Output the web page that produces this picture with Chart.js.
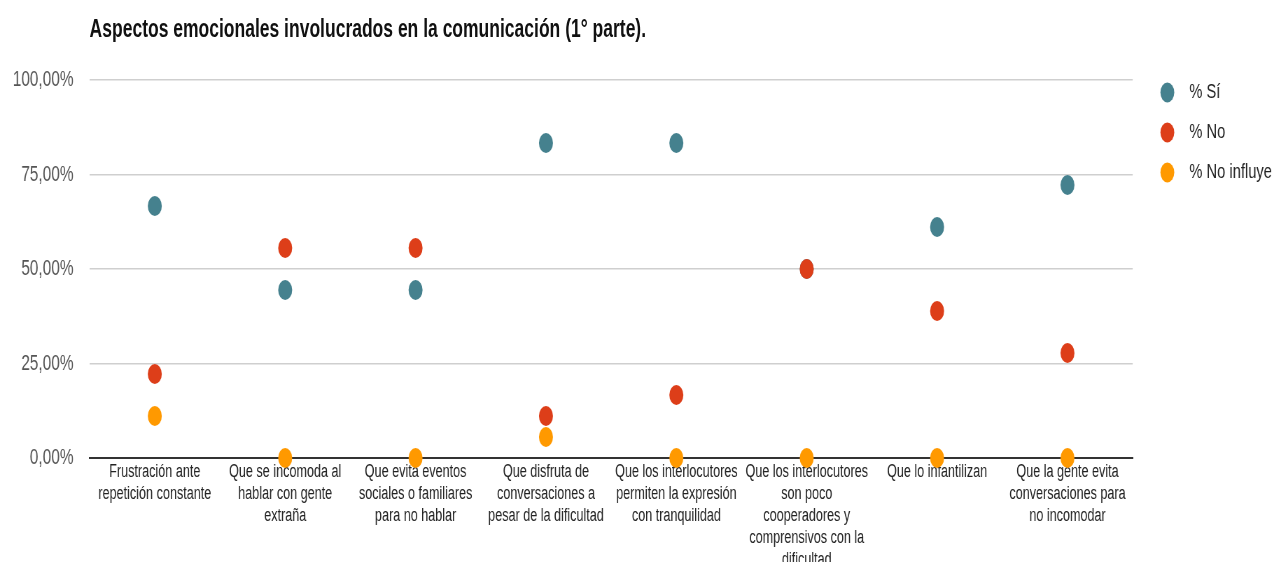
<!DOCTYPE html>
<html>
<head>
<meta charset="utf-8">
<script src="https://cdn.jsdelivr.net/npm/chart.js@4"></script>
<style>
  body { margin: 0; background: #fff; overflow: hidden; }
  /* el original esta comprimido en horizontal: se dibuja ancho y se escala */
  .wrap {
    position: relative; width: 1827px; height: 562px;
    transform: scaleX(0.7); transform-origin: 0 0;
  }
  .title {
    position: absolute; left: 128px; top: 16px;
    font-family: 'Liberation Sans', Arial, sans-serif;
    font-weight: bold; font-size: 25px; line-height: 1; color: #111;
  }
</style>
</head>
<body>
<div class="wrap">
  <div class="title">Aspectos emocionales involucrados en la comunicación (1° parte).</div>
  <canvas id="chart" width="1827" height="562"></canvas>
</div>
<script>
// categorias y series
const categorias = [
  ["Frustración ante", "repetición constante"],
  ["Que se incomoda al", "hablar con gente", "extraña"],
  ["Que evita eventos", "sociales o familiares", "para no hablar"],
  ["Que disfruta de", "conversaciones a", "pesar de la dificultad"],
  ["Que los interlocutores", "permiten la expresión", "con tranquilidad"],
  ["Que los interlocutores", "son poco", "cooperadores y", "comprensivos con la", "dificultad"],
  ["Que lo infantilizan"],
  ["Que la gente evita", "conversaciones para", "no incomodar"]
];
const si = [66.67, 44.44, 44.44, 83.33, 83.33, 50, 61.11, 72.22];
const no = [22.22, 55.56, 55.56, 11.11, 16.67, 50, 38.89, 27.78];
const noInfluye = [11.11, 0, 0, 5.56, 0, 0, 0, 0];
const ticksY = [0, 25, 50, 75, 100];
const etiquetasY = ["0,00%", "25,00%", "50,00%", "75,00%", "100,00%"];

const fuente = "'Liberation Sans', Arial, sans-serif";

function serie(label, data, color, order) {
  return {
    label: label,
    data: data,
    xAxisID: "x",
    yAxisID: "y",
    showLine: false,
    clip: false,
    backgroundColor: color,
    borderColor: color,
    pointRadius: 10,
    pointHoverRadius: 10,
    pointBorderWidth: 0,
    order: order
  };
}

const leyendaBase = Chart.defaults.plugins.legend.labels.generateLabels;

new Chart(document.getElementById("chart"), {
  type: "line",
  data: {
    labels: categorias,
    datasets: [
      serie("% Sí", si, "#45818e", 3),
      serie("% No", no, "#dd3e19", 2),
      serie("% No influye", noInfluye, "#ff9900", 1)
    ]
  },
  options: {
    responsive: false,
    animation: false,
    layout: { padding: { top: 63, right: 0, left: 0, bottom: 0 } },
    plugins: {
      title: { display: false },
      tooltip: { enabled: false },
      legend: {
        position: "right",
        align: "start",
        labels: {
          usePointStyle: true,
          pointStyle: "circle",
          boxWidth: 21,
          boxHeight: 14,
          padding: 19,
          color: "#222",
          font: { family: fuente, size: 21 },
          sort: (a, b) => a.datasetIndex - b.datasetIndex,
          generateLabels: (chart) => leyendaBase(chart).map(it => {
            it.text = "\u2002" + it.text;
            return it;
          })
        }
      }
    },
    scales: {
      x: {
        offset: true,
        grid: { display: false },
        border: { color: "#333", width: 2 },
        afterFit: (s) => { s.height = 104; },
        ticks: {
          maxRotation: 0,
          autoSkip: false,
          padding: -5,
          color: "#222",
          font: { family: fuente, size: 18, lineHeight: 1.22 }
        }
      },
      arriba: {
        position: "top",
        grid: { display: false },
        border: { display: false },
        ticks: { display: false },
        afterFit: (s) => { s.height = 17; }
      },
      derecha: {
        position: "right",
        grid: { display: false },
        border: { display: false },
        ticks: { display: false },
        afterFit: (s) => { s.width = 20; }
      },
      y: {
        min: 0,
        max: 100,
        afterBuildTicks: (axis) => { axis.ticks = ticksY.map(v => ({ value: v })); },
        afterFit: (s) => { s.width = 128; },
        grid: { color: "#cfcfcf", lineWidth: 1.5, drawTicks: false },
        border: { display: false },
        ticks: {
          padding: 23,
          color: "#555",
          font: { family: fuente, size: 22 },
          callback: (v, i) => etiquetasY[i]
        }
      }
    }
  }
});
</script>
</body>
</html>
